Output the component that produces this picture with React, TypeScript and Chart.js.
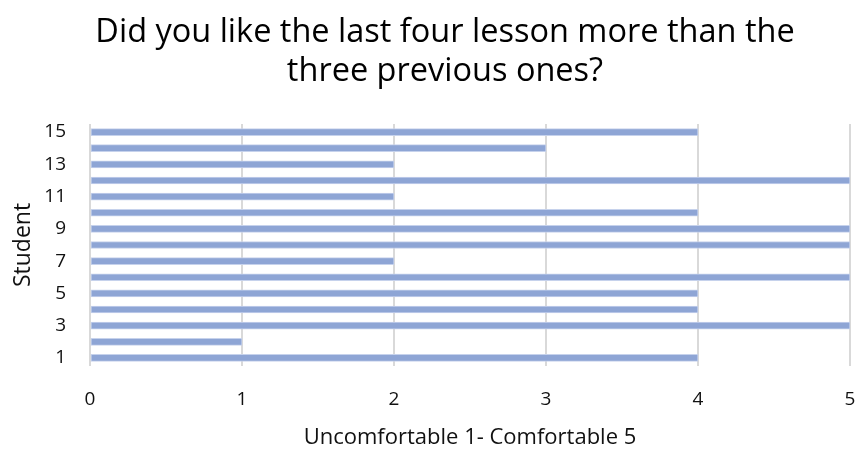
import React, { useEffect, useRef } from "react";
import { Chart, registerables } from "chart.js";

Chart.register(...registerables);

const students = ["1", "2", "3", "4", "5", "6", "7", "8", "9", "10", "11", "12", "13", "14", "15"];
const ratings = [4, 1, 5, 4, 4, 5, 2, 5, 5, 4, 2, 5, 2, 3, 4];
const xTicks = [0, 1, 2, 3, 4, 5];
const titleLines = ["Did you like the last four lesson more than the", "three previous ones?"];
const xTitle = "Uncomfortable 1- Comfortable 5";
const yTitle = "Student";

const FONT = "'Open Sans', sans-serif";

const titlePlugin = {
  id: "offsetTitle",
  afterDraw(chart: any) {
    const ctx = chart.ctx;
    ctx.save();
    ctx.font = `32.5px ${FONT}`;
    ctx.fillStyle = "#000";
    ctx.textAlign = "center";
    ctx.textBaseline = "middle";
    const cx = 445;
    titleLines.forEach((line, i) => {
      ctx.fillText(line, cx, 33 + i * 39);
    });
    ctx.restore();
  },
};

export default function App() {
  const ref = useRef<HTMLCanvasElement | null>(null);
  useEffect(() => {
    if (!ref.current) return;
    const chart = new Chart(ref.current, {
      type: "bar",
      data: {
        labels: students,
        datasets: [
          {
            data: ratings,
            backgroundColor: "#8EA5D5",
            borderColor: "#C6D2EC",
            borderWidth: 1,
            borderSkipped: false,
            barThickness: 7,
          },
        ],
      },
      plugins: [titlePlugin],
      options: {
        indexAxis: "y",
        animation: false,
        responsive: true,
        maintainAspectRatio: false,
        layout: { padding: { left: 0, right: 7, top: 124, bottom: 0 } },
        plugins: {
          legend: { display: false },
          tooltip: { enabled: false },
          title: { display: false },
        },
        scales: {
          x: {
            type: "linear",
            min: 0,
            max: 5,
            afterBuildTicks: (scale: any) => {
              scale.ticks = xTicks.map((v) => ({ value: v }));
            },
            afterFit: (scale: any) => {
              scale.height = 85;
              scale.paddingRight = 0;
              scale.paddingLeft = 0;
            },
            grid: { color: "#D9D9D9", lineWidth: 2, drawTicks: false },
            border: { display: false },
            ticks: {
              color: "#111",
              padding: 22,
              font: { family: FONT, size: 19 },
            },
            title: {
              display: true,
              text: xTitle,
              color: "#111",
              font: { family: FONT, size: 22 },
              padding: { top: 5, bottom: 0 },
            },
          },
          y: {
            type: "category",
            reverse: true,
            afterFit: (scale: any) => {
              scale.width = 90;
            },
            grid: { display: false, drawTicks: false },
            border: { display: false },
            ticks: {
              color: "#111",
              padding: 24,
              autoSkip: false,
              font: { family: FONT, size: 19 },
              callback: (_v: any, i: number) => (i % 2 === 0 ? students[i] : ""),
            },
            title: {
              display: true,
              text: yTitle,
              color: "#111",
              font: { family: FONT, size: 23 },
              padding: { top: 10, bottom: 4 },
            },
          },
        },
      },
    });
    return () => chart.destroy();
  }, []);
  return (
    <div style={{ position: "fixed", left: 0, top: 0, width: 857, height: 451, background: "#fff" }}>
      <canvas ref={ref} />
    </div>
  );
}
